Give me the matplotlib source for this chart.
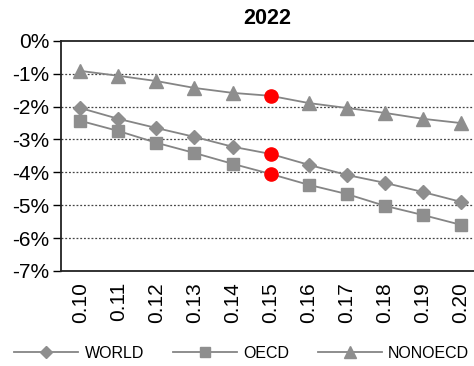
import matplotlib.pyplot as plt
from matplotlib.ticker import FuncFormatter

plt.rcParams["font.family"] = ["Liberation Sans", "DejaVu Sans"]

# tax rate scenarios
rates = [0.10, 0.11, 0.12, 0.13, 0.14, 0.15, 0.16, 0.17, 0.18, 0.19, 0.20]
rate_labels = ["0.10", "0.11", "0.12", "0.13", "0.14", "0.15", "0.16", "0.17", "0.18", "0.19", "0.20"]

# change in 2022, percent
world = [-2.04, -2.37, -2.65, -2.92, -3.22, -3.44, -3.77, -4.08, -4.32, -4.60, -4.90]
oecd = [-2.43, -2.74, -3.10, -3.41, -3.74, -4.05, -4.38, -4.66, -5.02, -5.30, -5.60]
nonoecd = [-0.91, -1.06, -1.22, -1.43, -1.58, -1.67, -1.89, -2.04, -2.19, -2.37, -2.50]

# the 0.15 case is highlighted in red
highlight = 5
others = [i for i in range(len(rates)) if i != highlight]

fig = plt.figure(figsize=(4.74, 3.66), dpi=100)
ax = fig.add_axes([0.129, 0.26, 0.871, 0.628])

line_col = "#858585"
mark_col = "#8e8e8e"
series = [("WORLD", world, "D", 7.5), ("OECD", oecd, "s", 8.5), ("NONOECD", nonoecd, "^", 10)]
for name, vals, mk, ms in series:
    ax.plot(rates, vals, color=line_col, lw=1.3, marker=mk, ms=ms,
            mfc=mark_col, mec=mark_col, markevery=others, label=name, zorder=3)
    ax.plot(rates[highlight], vals[highlight], "o", color="#ff0000", ms=9.5, zorder=4)

ax.set_xlim(0.095, 0.2034)
ax.set_ylim(-7, 0)
ax.set_yticks(range(-7, 1))
ax.yaxis.set_major_formatter(FuncFormatter(lambda v, p: f"{v:.0f}%"))
ax.set_xticks(rates)
ax.set_xticklabels(rate_labels, rotation=90)
ax.tick_params(axis="y", length=6, width=1, labelsize=15, pad=2.5)
ax.tick_params(axis="x", length=0, labelsize=15, pad=8)

for y in range(-6, 0):
    ax.axhline(y, color="#444444", lw=0.9, ls=(0, (1.5, 1.5)), zorder=1)

ax.spines["right"].set_visible(False)
for s in ["left", "top", "bottom"]:
    ax.spines[s].set_linewidth(1.3)
    ax.spines[s].set_color("#222222")

ax.set_title("2022", fontsize=15.5, fontweight="bold", pad=12)

fig.legend(loc="lower center", bbox_to_anchor=(0.51, -0.025), ncol=3, frameon=False,
           fontsize=11.5, handlelength=4.0, columnspacing=1.8, handletextpad=0.4,
           markerscale=0.85)

fig.savefig("out.png", dpi=100)
